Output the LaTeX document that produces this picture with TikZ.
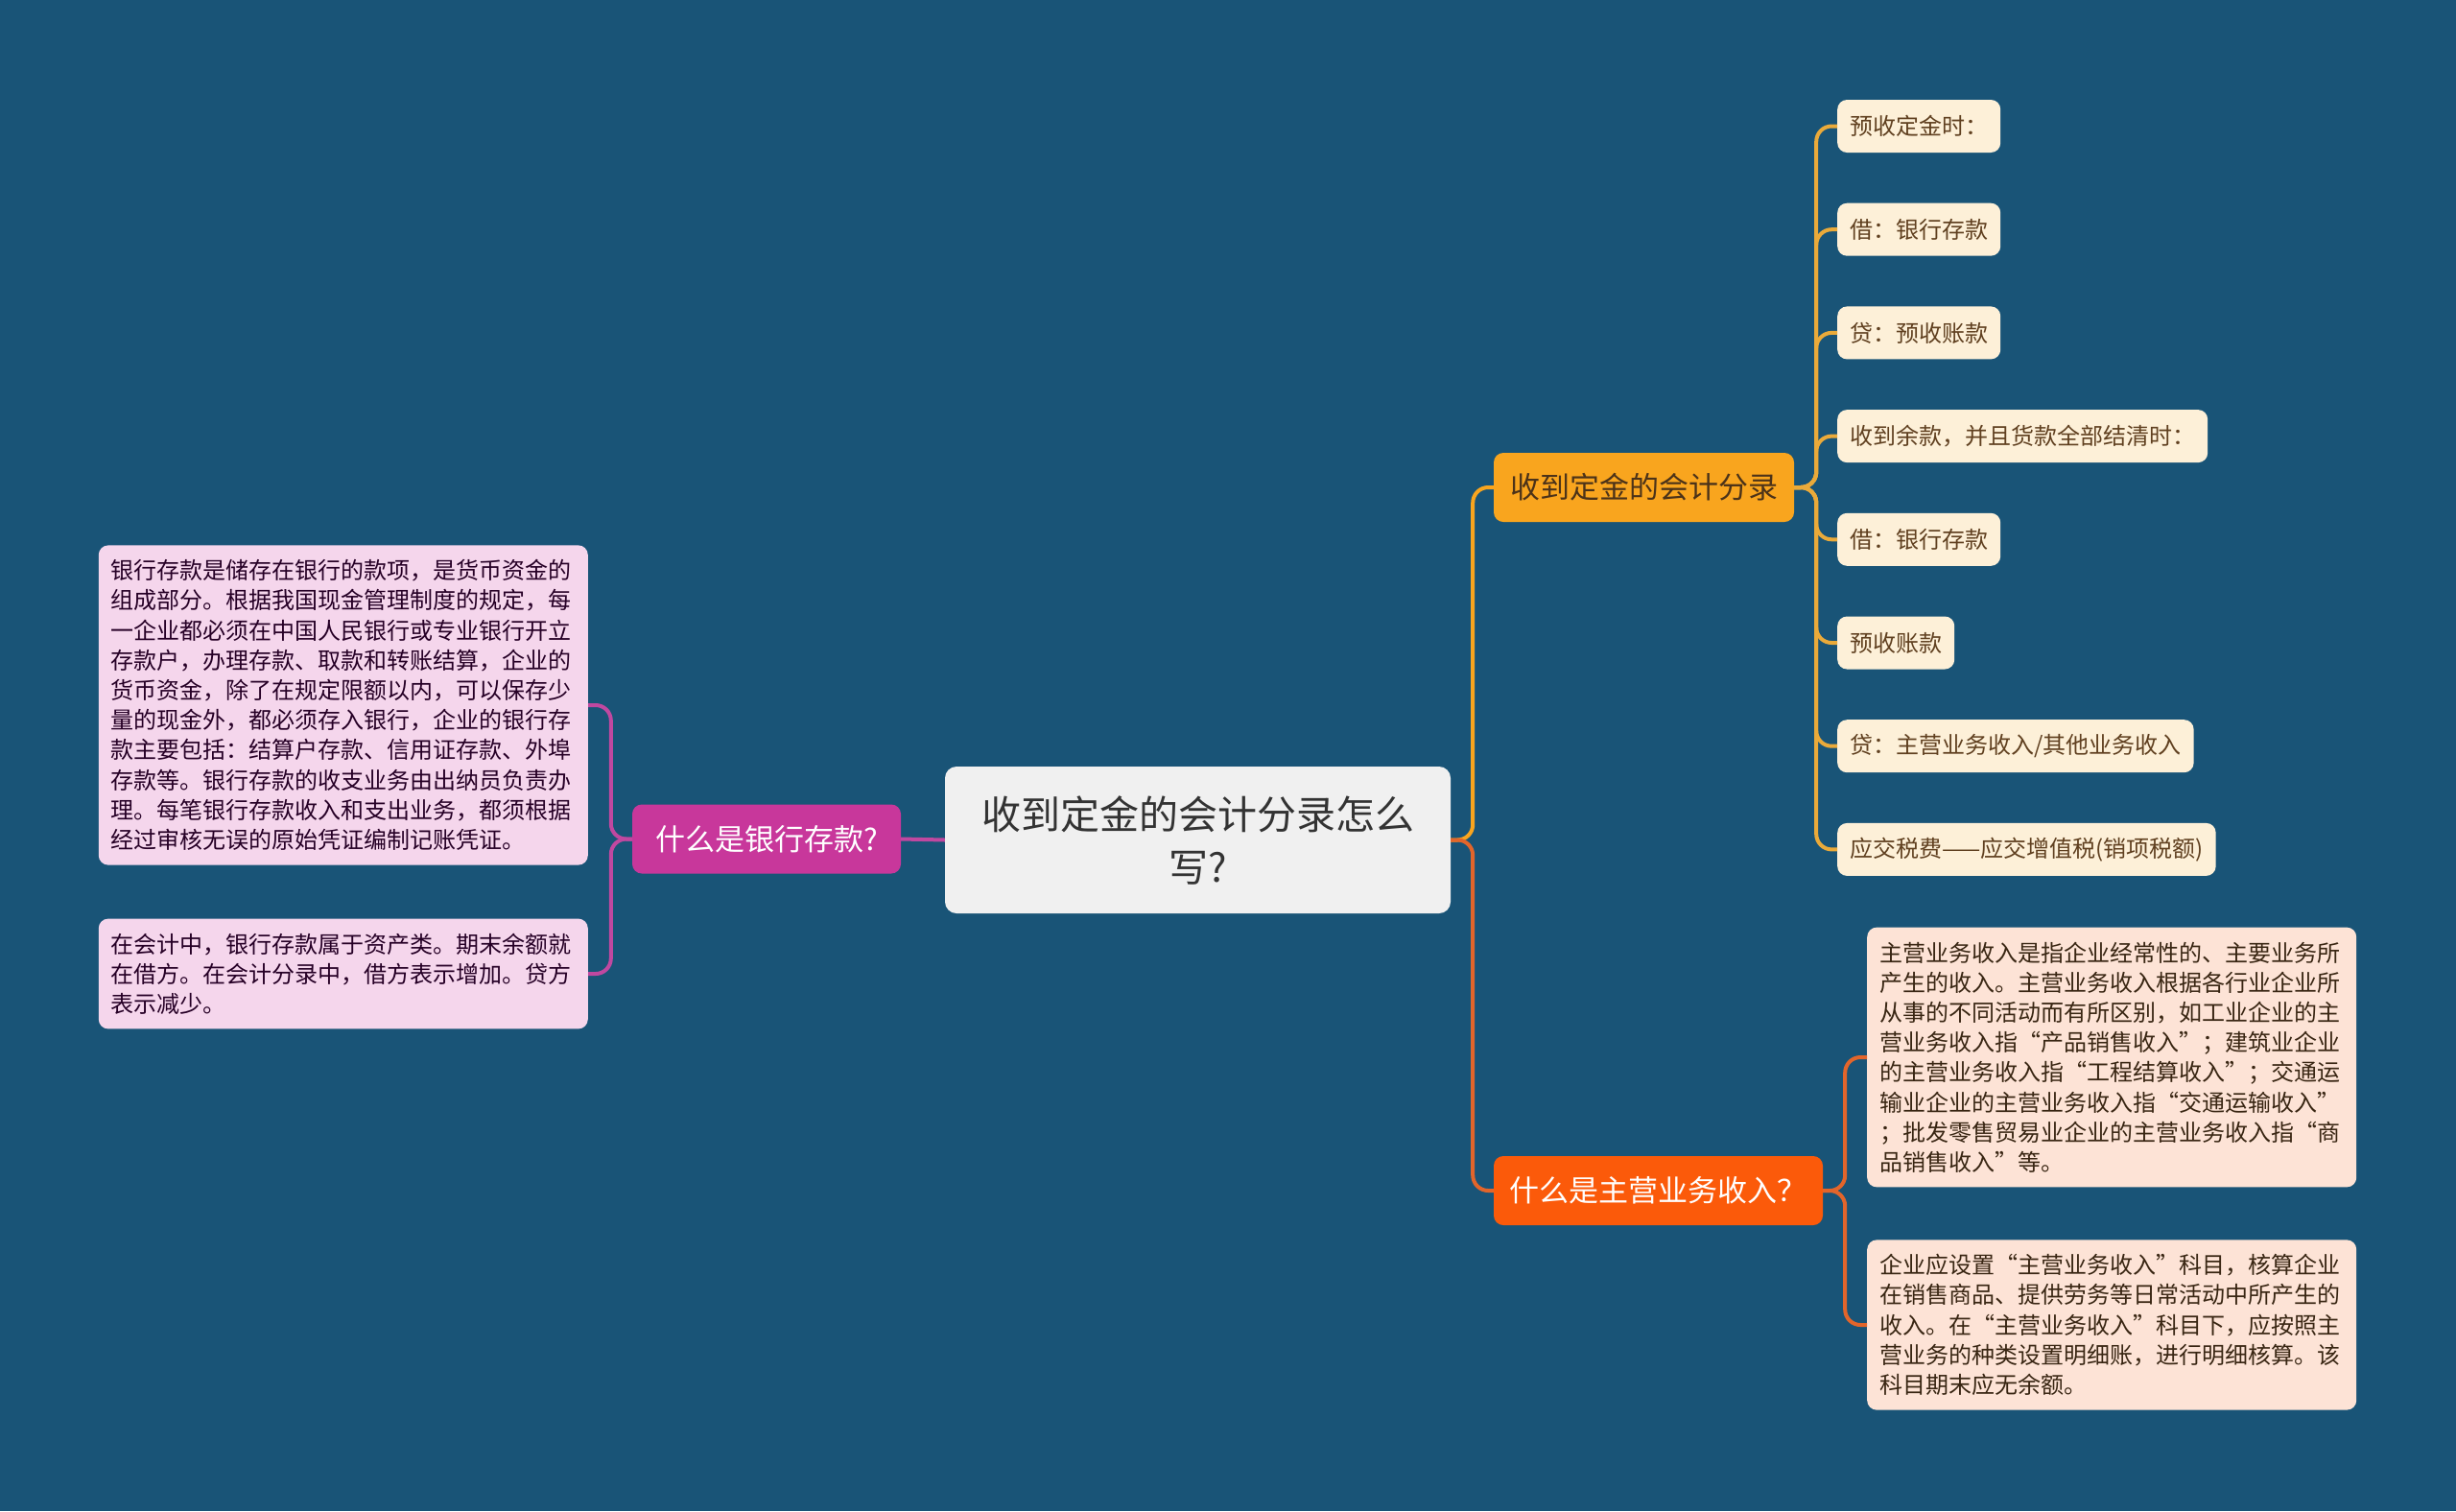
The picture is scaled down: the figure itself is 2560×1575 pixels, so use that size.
\documentclass[tikz,border=0pt]{standalone}
\usepackage{fontspec}
\usepackage{xcolor}
\usepackage{tikz}
\newfontfamily\cjk{Noto Sans CJK SC}
\definecolor{bgblue}{HTML}{195477}
\definecolor{rootgray}{HTML}{F0F0F0}
\definecolor{fenluorange}{HTML}{F9A51E}
\definecolor{zhuyingred}{HTML}{FB5A0A}
\definecolor{cunkuanpink}{HTML}{C8379B}
\definecolor{leafcream}{HTML}{FDF0D8}
\definecolor{boxpeach}{HTML}{FDE3D6}
\definecolor{boxpink}{HTML}{F5D6EC}
\definecolor{lineyellow}{HTML}{EAAA3A}
\definecolor{linered}{HTML}{E2652B}
\definecolor{linepink}{HTML}{C048A0}

\tikzset{
  rootnode/.style={fill=rootgray, rounded corners=12pt, minimum width=527pt, minimum height=153pt,
    align=center, text=black!80, font=\cjk\fontsize{41}{55}\selectfont},
  branchnode/.style={rounded corners=10pt, minimum height=72pt, inner xsep=0pt,
    font=\cjk\fontsize{31}{36}\selectfont},
  leafnode/.style={fill=leafcream, rounded corners=10pt, minimum height=55pt, inner xsep=13pt,
    anchor=west, text=brown!50!black, font=\cjk\fontsize{24}{30}\selectfont},
  textbox/.style={rounded corners=10pt, text width=484pt, inner xsep=13pt, inner ysep=15pt,
    align=left, font=\cjk\fontsize{24}{31.2}\selectfont},
  link/.style={line width=4pt, rounded corners=16pt}
}

\begin{document}
\begin{tikzpicture}[x=1pt,y=-1pt]
  \fill[bgblue] (0,0) rectangle (2560,1575);

  % centre
  \node[rootnode] (root) at (1248.5,875.5) {收到定金的会计分录怎么\\写?};

  % three branches
  \node[branchnode, fill=fenluorange, text=brown!40!black, minimum width=313pt] (fenlu) at (1713.5,508) {收到定金的会计分录};
  \node[branchnode, fill=zhuyingred, text=white, minimum width=343pt] (zhuying) at (1728.5,1241) {什么是主营业务收入？};
  \node[branchnode, fill=cunkuanpink, text=white, minimum width=280pt] (cunkuan) at (799,874.5) {什么是银行存款?};

  % entries
  \node[leafnode] (y1) at (1915,131.5) {预收定金时：};
  \node[leafnode] (y2) at (1915,239.2) {借：银行存款};
  \node[leafnode] (y3) at (1915,346.9) {贷：预收账款};
  \node[leafnode] (y4) at (1915,454.6) {收到余款，并且货款全部结清时：};
  \node[leafnode] (y5) at (1915,562.3) {借：银行存款};
  \node[leafnode] (y6) at (1915,670) {预收账款};
  \node[leafnode] (y7) at (1915,777.7) {贷：主营业务收入/其他业务收入};
  \node[leafnode] (y8) at (1915,885.4) {应交税费——应交增值税(销项税额)};

  % right texts
  \node[textbox, fill=boxpeach, text=brown!30!black, anchor=west] (z1) at (1946,1102) {主营业务收入是指企业经常性的、主要业务所\\产生的收入。主营业务收入根据各行业企业所\\从事的不同活动而有所区别，如工业企业的主\\营业务收入指“产品销售收入”；建筑业企业\\的主营业务收入指“工程结算收入”；交通运\\输业企业的主营业务收入指“交通运输收入”\\；批发零售贸易业企业的主营业务收入指“商\\品销售收入”等。};
  \node[textbox, fill=boxpeach, text=brown!30!black, anchor=west] (z2) at (1946,1381) {企业应设置“主营业务收入”科目，核算企业\\在销售商品、提供劳务等日常活动中所产生的\\收入。在“主营业务收入”科目下，应按照主\\营业务的种类设置明细账，进行明细核算。该\\科目期末应无余额。};

  % left texts
  \node[textbox, fill=boxpink, text=violet!30!black, anchor=east] (c1) at (613,735) {银行存款是储存在银行的款项，是货币资金的\\组成部分。根据我国现金管理制度的规定，每\\一企业都必须在中国人民银行或专业银行开立\\存款户，办理存款、取款和转账结算，企业的\\货币资金，除了在规定限额以内，可以保存少\\量的现金外，都必须存入银行，企业的银行存\\款主要包括：结算户存款、信用证存款、外埠\\存款等。银行存款的收支业务由出纳员负责办\\理。每笔银行存款收入和支出业务，都须根据\\经过审核无误的原始凭证编制记账凭证。};
  \node[textbox, fill=boxpink, text=violet!30!black, anchor=east] (c2) at (613,1015) {在会计中，银行存款属于资产类。期末余额就\\在借方。在会计分录中，借方表示增加。贷方\\表示减少。};

  % links
  \draw[link, fenluorange] (root.east) -- ++(23,0) |- (fenlu.west);
  \draw[link, linered] (root.east) -- ++(23,0) |- (zhuying.west);
  \draw[link, linepink] (root.west) -- (cunkuan.east);
  \foreach \i in {1,...,8}
    \draw[link, lineyellow] (fenlu.east) -- ++(23,0) |- (y\i.west);
  \foreach \i in {1,2}
    \draw[link, linered] (zhuying.east) -- ++(23,0) |- (z\i.west);
  \foreach \i in {1,2}
    \draw[link, linepink] (cunkuan.west) -- ++(-22,0) |- (c\i.east);
\end{tikzpicture}
\end{document}
